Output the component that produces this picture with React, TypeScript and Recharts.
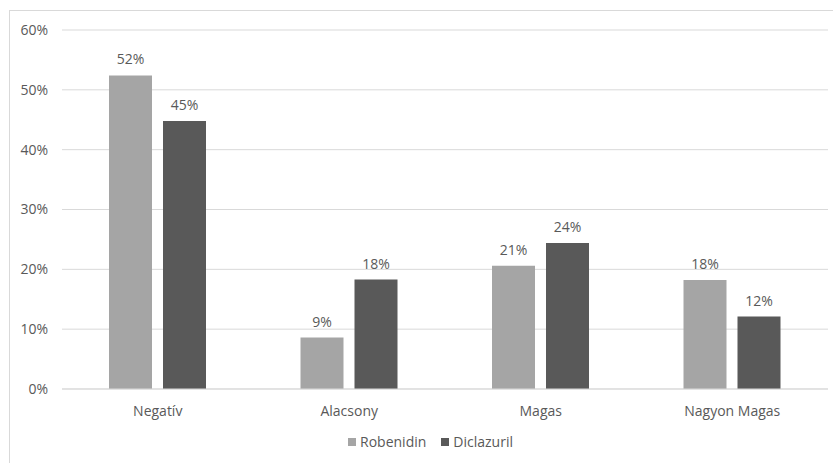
import React from "react";
import {
  BarChart,
  Bar,
  XAxis,
  YAxis,
  CartesianGrid,
  Legend,
  LabelList,
} from "recharts";

const categories = ["Negatív", "Alacsony", "Magas", "Nagyon Magas"];
const robenidin = [52.4, 8.6, 20.6, 18.2];
const diclazuril = [44.8, 18.3, 24.4, 12.1];
const yTicks = [0, 10, 20, 30, 40, 50, 60];

const seriesNames = ["Robenidin", "Diclazuril"];
const colors = ["#a5a5a5", "#595959"];
const textColor = "#595959";
const gridColor = "#d9d9d9";
const font = "'Open Sans', sans-serif";

const data = categories.map((name, i) => ({
  name,
  Robenidin: robenidin[i],
  Diclazuril: diclazuril[i],
}));

const pct = (v: number) => `${Math.round(v)}%`;

const renderLegend = () => (
  <div
    style={{
      display: "flex",
      justifyContent: "center",
      gap: 15,
      fontFamily: font,
      fontSize: 14,
      color: textColor,
    }}
  >
    {seriesNames.map((s, i) => (
      <span key={s} style={{ display: "inline-flex", alignItems: "center" }}>
        <span
          style={{
            display: "inline-block",
            width: 8,
            height: 8,
            background: colors[i],
            marginRight: 4,
          }}
        />
        {s}
      </span>
    ))}
  </div>
);

export default function App() {
  return (
    <div style={{ position: "absolute", left: 0, top: 0, width: 833, height: 463, overflow: "hidden", background: "#fff" }}>
      <div
        style={{
          position: "absolute",
          left: 9,
          top: 10,
          width: 840,
          height: 470,
          border: `1px solid ${gridColor}`,
        }}
      />
      <div style={{ position: "absolute", left: 0, top: 0 }}>
        <BarChart
          width={833}
          height={463}
          data={data}
          margin={{ top: 30, right: 5, left: 0, bottom: 12 }}
          barSize={43}
          barGap={11}
        >
          <CartesianGrid vertical={false} stroke={gridColor} />
          <XAxis
            dataKey="name"
            axisLine={{ stroke: gridColor }}
            tickLine={false}
            tickSize={6}
            tickMargin={11}
            height={43}
            tick={{ fill: textColor, fontSize: 14, fontFamily: font }}
          />
          <YAxis
            width={62}
            domain={[0, 60]}
            ticks={yTicks}
            tickFormatter={(v) => `${v}%`}
            axisLine={false}
            tickLine={false}
            tickSize={6}
            tickMargin={8}
            tick={{ fill: textColor, fontSize: 14, fontFamily: font }}
          />
          <Legend verticalAlign="bottom" wrapperStyle={{ left: 14, width: 833 }} content={renderLegend} />
          {seriesNames.map((s, i) => (
            <Bar key={s} dataKey={s} fill={colors[i]} isAnimationActive={false}>
              <LabelList
                dataKey={s}
                position="top"
                offset={11}
                formatter={pct}
                style={{ fill: textColor, fontSize: 14, fontFamily: font }}
              />
            </Bar>
          ))}
        </BarChart>
      </div>
    </div>
  );
}
